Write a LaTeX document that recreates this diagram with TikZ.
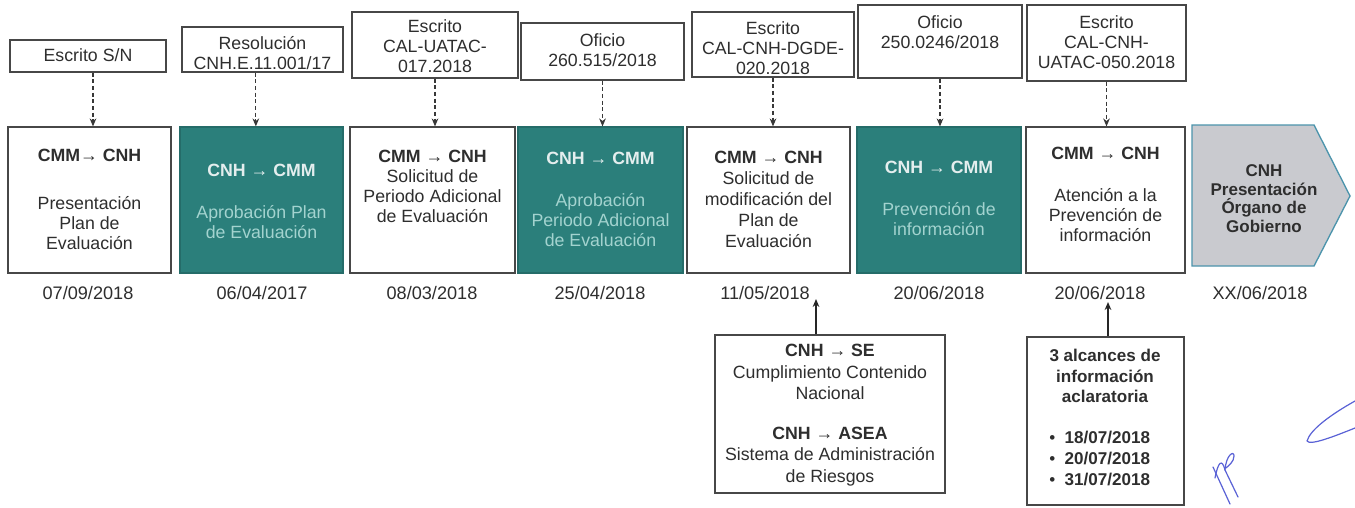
\documentclass[tikz,border=0pt]{standalone}
\usepackage{fontspec}
\setmainfont{Liberation Sans}
\usetikzlibrary{arrows.meta}
\definecolor{tealbox}{HTML}{2B7F7B}
\definecolor{tealhead}{HTML}{E4EEEE}
\definecolor{tealbody}{HTML}{A3D3CF}
\definecolor{chevfill}{HTML}{C9CACF}
\definecolor{chevdraw}{HTML}{4C94AC}
\definecolor{inkblue}{HTML}{5A62D6}
\definecolor{txtgray}{HTML}{2E2E2E}
\tikzset{
  lbox/.style 2 args={draw=black!72, line width=0.9pt, fill=white, inner sep=0pt,
    minimum width=#1*0.75pt, minimum height=#2*0.75pt},
  tbox/.style 2 args={fill=tealbox, draw=tealbox!85!black, line width=0.9pt, inner sep=0pt,
    minimum width=#1*0.75pt, minimum height=#2*0.75pt},
  txt/.style={align=center, text=txtgray, inner sep=0pt, font=\fontsize{13.3}{15}\selectfont},
  ttxt/.style={align=center, text=tealbody, inner sep=0pt, font=\fontsize{13.3}{15}\selectfont},
  datetxt/.style={text=txtgray, inner sep=0pt, font=\fontsize{13.6}{15}\selectfont},
  darr/.style={draw=black!78, line width=0.8pt, densely dashed, -{Stealth[length=6pt,width=5pt]}},
  sarr/.style={draw=black!85, line width=0.9pt, -{Stealth[length=6pt,width=5pt]}},
  chev/.style={fill=chevfill, draw=chevdraw, line width=1pt},
  ink/.style={draw=inkblue, line width=0.9pt, line cap=round, line join=round}
}
\begin{document}
\begin{tikzpicture}[x=0.75pt,y=-0.75pt]
\useasboundingbox (0,0) rectangle (1355,507);
\fill[white] (0,0) rectangle (1355,507);

% ---- top document boxes
\node[lbox={156}{32}] (L1) at (88,56) {};
\node[txt] (l1) at (88,55) {Escrito S/N};
\node[lbox={161}{45}] (L2) at (262.5,49.5) {};
\node[txt] (l2) at (262.5,53) {Resolución\\CNH.E.11.001/17};
\node[lbox={166}{66}] (L3) at (435,45) {};
\node[txt] (l3) at (435,46) {Escrito\\CAL-UATAC-\\017.2018};
\node[lbox={163}{57}] (L4) at (602.5,51.5) {};
\node[txt] (l4) at (602.5,50) {Oficio\\260.515/2018};
\node[lbox={162}{65}] (L5) at (773,44.5) {};
\node[txt] (l5) at (773,48) {Escrito\\CAL-CNH-DGDE-\\020.2018};
\node[lbox={164}{73}] (L6) at (940,41.5) {};
\node[txt] (l6) at (940,32) {Oficio\\250.0246/2018};
\node[lbox={159}{76}] (L7) at (1106.5,43) {};
\node[txt] (l7) at (1106.5,42) {Escrito\\CAL-CNH-\\UATAC-050.2018};

% ---- main boxes
\node[lbox={163}{146}] (M1) at (89.5,200) {};
\node[txt] (m1) at (89.5,199) {\textbf{CMM→ CNH}\\[21pt]Presentación\\Plan de\\Evaluación};
\node[tbox={163}{146}] (M2) at (261.5,200) {};
\node[ttxt] (m2) at (261.5,201.5) {\textcolor{tealhead}{\textbf{CNH → CMM}}\\[17pt]Aprobación Plan\\de Evaluación};
\node[lbox={165}{146}] (M3) at (432.5,200) {};
\node[txt] (m3) at (432.5,186) {\textbf{CMM → CNH}\\Solicitud de\\Periodo Adicional\\de Evaluación};
\node[tbox={165}{146}] (M4) at (600.5,200) {};
\node[ttxt] (m4) at (600.5,199) {\textcolor{tealhead}{\textbf{CNH → CMM}}\\[16.5pt]Aprobación\\Periodo Adicional\\de Evaluación};
\node[lbox={163}{146}] (M5) at (768.5,200) {};
\node[txt, font=\fontsize{13.3}{15.75}\selectfont] (m5) at (768.5,199) {\textbf{CMM → CNH}\\Solicitud de\\modificación del\\Plan de\\Evaluación};
\node[tbox={164}{146}] (M6) at (939,200) {};
\node[ttxt] (m6) at (939,198.5) {\textcolor{tealhead}{\textbf{CNH → CMM}}\\[17pt]Prevención de\\información};
\node[lbox={159}{146}] (M7) at (1105.5,200) {};
\node[txt] (m7) at (1105.5,194.5) {\textbf{CMM → CNH}\\[17pt]Atención a la\\Prevención de\\información};

% ---- final chevron
\draw[chev] (1192,125) -- (1314,125) -- (1350,196) -- (1314,266) -- (1192,266) -- cycle;
\node[txt, font=\fontsize{12.75}{14}\selectfont\bfseries] (m8) at (1264,198.5) {CNH\\Presentación\\Órgano de\\Gobierno};

% ---- dates
\node[datetxt] (d1) at (88,293) {07/09/2018};
\node[datetxt] (d2) at (262,293) {06/04/2017};
\node[datetxt] (d3) at (432,293) {08/03/2018};
\node[datetxt] (d4) at (600,293) {25/04/2018};
\node[datetxt] (d5) at (765,293) {11/05/2018};
\node[datetxt] (d6) at (939,293) {20/06/2018};
\node[datetxt] (d7) at (1100,293) {20/06/2018};
\node[datetxt] (d8) at (1260,293) {XX/06/2018};

% ---- dashed connectors
\draw[darr] ([xshift=3.75pt]L1.south) -- ([xshift=3.75pt]L1.south |- M1.north);
\draw[darr] ([xshift=-5pt]L2.south) -- ([xshift=-5pt]L2.south |- M2.north);
\draw[darr] (L3.south) -- (L3.south |- M3.north);
\draw[darr] (L4.south) -- (L4.south |- M4.north);
\draw[darr] (L5.south) -- (L5.south |- M5.north);
\draw[darr] (L6.south) -- (L6.south |- M6.north);
\draw[darr] (L7.south) -- (L7.south |- M7.north);

% ---- bottom boxes
\node[lbox={230}{158}] (B1) at (830,414) {};
\node[txt, font=\fontsize{13.3}{16}\selectfont] (b1) at (830,415) {\textbf{CNH → SE}\\Cumplimiento Contenido\\Nacional\\[14pt]\textbf{CNH → ASEA}\\Sistema de Administración\\de Riesgos};
\node[lbox={157}{168}] (B2) at (1105.5,421) {};
\node[txt, font=\fontsize{12.8}{15.5}\selectfont\bfseries] (b2) at (1105,376) {3 alcances de\\información\\aclaratoria};
\node[txt, align=left, anchor=west, font=\fontsize{12.8}{15.75}\selectfont\bfseries] (b3) at (1049,458)
  {\textmd{•}\hspace{7pt}18/07/2018\\\textmd{•}\hspace{7pt}20/07/2018\\\textmd{•}\hspace{7pt}31/07/2018};

\coordinate (e1) at (816,299);
\coordinate (e2) at (1108,302);
\draw[sarr] (B1.north -| e1) -- (e1);
\draw[sarr] (B2.north -| e2) -- (e2);

% ---- handwritten marks
\draw[ink] (1355,401) .. controls (1330,415) and (1310,430) .. (1307,441)
  .. controls (1310,446) and (1335,436) .. (1355,428);
\draw[ink] (1213,467) -- (1230,504);
\draw[ink] (1215,478) .. controls (1218,462) and (1222,458) .. (1225,470) -- (1238,497);
\draw[ink] (1225,470) .. controls (1226,455) and (1234,450) .. (1234,456)
  .. controls (1234,462) and (1228,466) .. (1226,468);
\end{tikzpicture}
\end{document}
